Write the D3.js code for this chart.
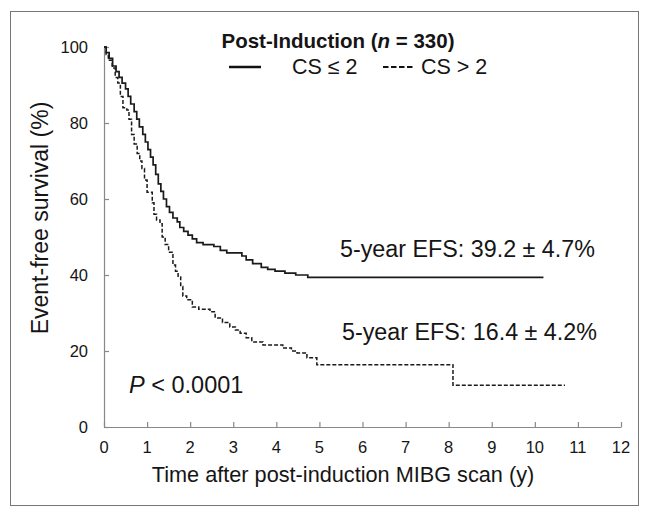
<!DOCTYPE html>
<html>
<head>
<meta charset="utf-8">
<script src="https://cdn.jsdelivr.net/npm/d3@7"></script>
<style>
  body { margin: 0; background: #fff; }
  svg text { font-family: "Liberation Sans", Arial, sans-serif; fill: #151515; }
</style>
</head>
<body>
<svg id="chart" width="648" height="513"></svg>
<script>
// CS <= 2 group (solid)
const lowTime = [0, 0.05, 0.12, 0.2, 0.28, 0.35, 0.42, 0.5, 0.56, 0.62, 0.7, 0.76, 0.82, 0.9, 0.96, 1.02, 1.08, 1.14, 1.2, 1.26, 1.32, 1.38, 1.45, 1.52, 1.6, 1.7, 1.76, 1.85, 1.95, 2.05, 2.15, 2.3, 2.55, 2.7, 2.85, 3.2, 3.3, 3.45, 3.65, 3.8, 3.97, 4.2, 4.45, 4.73, 10.2];
const lowSurv = [100, 98.5, 97, 95, 93.5, 92, 90.5, 89, 87, 85, 83, 81, 79, 77, 75, 73, 71, 69, 66.5, 64, 62, 60, 58, 56.5, 55, 54, 52.5, 51.5, 50.5, 49.5, 48.5, 48, 47.5, 46.5, 45.8, 45, 44, 43, 42, 41.5, 41, 40.5, 40, 39.4, 39.4];

// CS > 2 group (dashed)
const highTime = [0, 0.05, 0.1, 0.19, 0.26, 0.32, 0.38, 0.44, 0.53, 0.58, 0.64, 0.7, 0.77, 0.83, 0.88, 0.94, 1.0, 1.12, 1.16, 1.22, 1.3, 1.35, 1.42, 1.5, 1.6, 1.66, 1.72, 1.78, 1.83, 1.92, 2.05, 2.2, 2.46, 2.58, 2.75, 2.92, 3.05, 3.16, 3.3, 3.43, 3.69, 4.15, 4.35, 4.48, 4.71, 4.94, 8.1, 10.7];
const highSurv = [100, 98, 96.5, 94.5, 92, 90.5, 87, 84, 83.4, 81, 77, 74.5, 72, 70, 68, 65, 61.8, 59, 56, 54.5, 53.5, 50, 48, 46, 42.6, 41, 39.5, 37, 34.5, 33.5, 31.6, 31, 30.3, 28.7, 27.5, 26.3, 25.5, 24.7, 23.5, 22.4, 21.6, 20.8, 20, 19.5, 18.2, 16.4, 11.0, 11.0];

const xTicks = [0, 1, 2, 3, 4, 5, 6, 7, 8, 9, 10, 11, 12];
const yTicks = [0, 20, 40, 60, 80, 100];

const svg = d3.select("#chart");

// outer frame
svg.append("rect")
  .attr("x", 10.5).attr("y", 11.5)
  .attr("width", 628).attr("height", 494)
  .attr("fill", "none")
  .attr("stroke", "#777")
  .attr("stroke-width", 1);

const x = d3.scaleLinear().domain([0, 12]).range([104, 621]);
const y = d3.scaleLinear().domain([0, 100]).range([427, 47]);

// axes, ticks pointing inward
svg.append("g")
  .attr("transform", "translate(0,427)")
  .call(d3.axisTop(x).tickValues(xTicks).tickSize(5).tickSizeOuter(0).tickFormat(""));
svg.append("g")
  .attr("transform", "translate(104,0)")
  .call(d3.axisRight(y).tickValues(yTicks).tickSize(5).tickSizeOuter(0).tickFormat(""));
svg.selectAll(".domain, .tick line").attr("stroke", "#888").attr("stroke-width", 1.2);

// tick labels
svg.append("g").selectAll("text")
  .data(xTicks)
  .enter().append("text")
  .attr("x", d => x(d))
  .attr("y", 453)
  .attr("text-anchor", "middle")
  .attr("font-size", 16.5)
  .text(d => d);
svg.append("g").selectAll("text")
  .data(yTicks)
  .enter().append("text")
  .attr("x", 88)
  .attr("y", d => y(d) + 6)
  .attr("text-anchor", "end")
  .attr("font-size", 16.5)
  .text(d => d);

// axis titles
svg.append("text")
  .attr("x", 343).attr("y", 482)
  .attr("text-anchor", "middle")
  .attr("font-size", 21.7)
  .text("Time after post-induction MIBG scan (y)");
svg.append("text")
  .attr("transform", "translate(48,218) rotate(-90)")
  .attr("text-anchor", "middle")
  .attr("font-size", 23)
  .text("Event-free survival (%)");

// survival curves
const line = d3.line()
  .x(d => x(d[0]))
  .y(d => y(d[1]))
  .curve(d3.curveStepAfter);

svg.append("path")
  .datum(d3.zip(lowTime, lowSurv))
  .attr("fill", "none")
  .attr("stroke", "#1a1a1a")
  .attr("stroke-width", 1.7)
  .attr("d", line);

svg.append("path")
  .datum(d3.zip(highTime, highSurv))
  .attr("fill", "none")
  .attr("stroke", "#1a1a1a")
  .attr("stroke-width", 1.5)
  .attr("stroke-dasharray", "4,2")
  .attr("d", line);

// title + legend
const title = svg.append("text")
  .attr("x", 338).attr("y", 48)
  .attr("text-anchor", "middle")
  .attr("font-size", 20.5)
  .attr("font-weight", "bold");
title.append("tspan").text("Post-Induction (");
title.append("tspan").attr("font-style", "italic").text("n");
title.append("tspan").text(" = 330)");

svg.append("line")
  .attr("x1", 229).attr("x2", 261)
  .attr("y1", 67).attr("y2", 67)
  .attr("stroke", "#111").attr("stroke-width", 2.5);
svg.append("text")
  .attr("x", 292).attr("y", 74)
  .attr("font-size", 21.5)
  .text("CS ≤ 2");
svg.append("line")
  .attr("x1", 383).attr("x2", 413)
  .attr("y1", 67).attr("y2", 67)
  .attr("stroke", "#111").attr("stroke-width", 2.2)
  .attr("stroke-dasharray", "5.5,2.5");
svg.append("text")
  .attr("x", 421).attr("y", 74)
  .attr("font-size", 21.5)
  .text("CS > 2");

// annotations
svg.append("text")
  .attr("x", 340).attr("y", 257)
  .attr("font-size", 23.3)
  .text("5-year EFS: 39.2 ± 4.7%");
svg.append("text")
  .attr("x", 342).attr("y", 340)
  .attr("font-size", 23.3)
  .text("5-year EFS: 16.4 ± 4.2%");

const p = svg.append("text")
  .attr("x", 129).attr("y", 393)
  .attr("font-size", 23.5);
p.append("tspan").attr("font-style", "italic").text("P");
p.append("tspan").text(" < 0.0001");
</script>
</body>
</html>
